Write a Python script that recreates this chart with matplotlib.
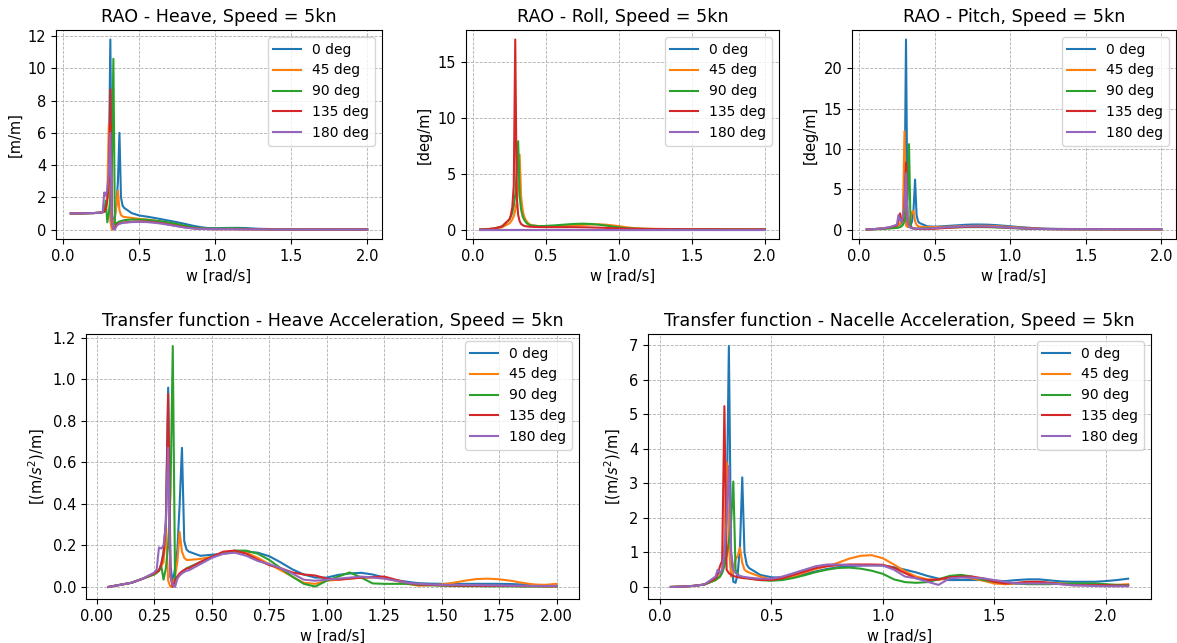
import numpy as np
import matplotlib
matplotlib.use("Agg")
import matplotlib.pyplot as plt

plt.rcParams["font.size"] = 10.5
plt.rcParams["legend.fontsize"] = 10

headings = ["0 deg", "45 deg", "90 deg", "135 deg", "180 deg"]

# frequency grid [rad/s]
w = [0.05, 0.10, 0.15, 0.20,
     0.25, 0.26, 0.27, 0.28, 0.29, 0.30, 0.31, 0.32, 0.33, 0.34, 0.35, 0.36, 0.37, 0.38, 0.39, 0.40,
     0.45, 0.50, 0.55, 0.60, 0.65, 0.70, 0.75, 0.80, 0.85, 0.90, 0.95, 1.00,
     1.05, 1.10, 1.15, 1.20, 1.25, 1.30, 1.35, 1.40, 1.45, 1.50,
     1.55, 1.60, 1.65, 1.70, 1.75, 1.80, 1.85, 1.90, 1.95, 2.00]
w_nac = w + [2.05, 2.10]

# RAO heave [m/m]
heave_0 = [1.00, 1.00, 1.01, 1.02,
           1.05, 1.08, 1.12, 1.40, 2.00, 3.50, 11.8, 1.00, 0.30, 0.80, 1.50, 3.00, 6.00, 2.00, 1.50, 1.35,
           1.02, 0.87, 0.80, 0.72, 0.63, 0.54, 0.45, 0.35, 0.24, 0.15, 0.09, 0.08,
           0.09, 0.10, 0.10, 0.09, 0.06, 0.04, 0.03, 0.02, 0.02, 0.01,
           0.01, 0.01, 0.01, 0.01, 0.01, 0.01, 0.00, 0.00, 0.00, 0.00]
heave_45 = [1.00, 1.00, 1.01, 1.02,
            1.05, 1.08, 1.10, 1.20, 2.00, 6.50, 0.50, 0.00, 0.30, 0.80, 1.50, 2.40, 1.20, 0.90, 0.82, 0.78,
            0.72, 0.66, 0.62, 0.56, 0.47, 0.37, 0.27, 0.18, 0.10, 0.06, 0.04, 0.03,
            0.03, 0.03, 0.02, 0.02, 0.02, 0.01, 0.01, 0.01, 0.01, 0.01,
            0.01, 0.01, 0.01, 0.01, 0.01, 0.01, 0.01, 0.00, 0.00, 0.00]
heave_90 = [1.00, 1.00, 1.01, 1.02,
            1.05, 1.07, 1.10, 1.80, 0.45, 1.00, 2.00, 4.00, 10.6, 0.30, 0.40, 0.45, 0.50, 0.52, 0.55, 0.58,
            0.62, 0.62, 0.60, 0.55, 0.50, 0.43, 0.34, 0.24, 0.14, 0.07, 0.05, 0.05,
            0.07, 0.08, 0.07, 0.05, 0.03, 0.02, 0.01, 0.01, 0.01, 0.01,
            0.00, 0.00, 0.00, 0.00, 0.00, 0.00, 0.00, 0.00, 0.00, 0.00]
heave_135 = [1.00, 1.00, 1.01, 1.02,
             1.05, 1.08, 1.10, 1.30, 1.80, 3.00, 8.70, 0.50, 0.00, 0.15, 0.28, 0.34, 0.38, 0.40, 0.42, 0.44,
             0.48, 0.50, 0.49, 0.45, 0.39, 0.30, 0.22, 0.14, 0.08, 0.04, 0.03, 0.02,
             0.02, 0.02, 0.02, 0.01, 0.01, 0.01, 0.01, 0.00, 0.00, 0.00,
             0.00, 0.00, 0.00, 0.00, 0.00, 0.00, 0.00, 0.00, 0.00, 0.00]
heave_180 = [1.00, 1.00, 1.01, 1.02,
             1.05, 1.10, 2.30, 2.10, 2.50, 3.50, 6.00, 0.50, 0.05, 0.00, 0.20, 0.30, 0.35, 0.38, 0.40, 0.42,
             0.46, 0.47, 0.46, 0.42, 0.36, 0.28, 0.20, 0.12, 0.07, 0.04, 0.02, 0.02,
             0.02, 0.02, 0.01, 0.01, 0.01, 0.01, 0.00, 0.00, 0.00, 0.00,
             0.00, 0.00, 0.00, 0.00, 0.00, 0.00, 0.00, 0.00, 0.00, 0.00]

# RAO roll [deg/m]
roll_0 = [0.0] * 4 + [0.0] * 16 + [0.0] * 12 + [0.0] * 20
roll_45 = [0.00, 0.03, 0.08, 0.20,
           0.55, 0.70, 0.90, 1.20, 1.70, 2.40, 3.80, 6.70, 3.00, 1.80, 1.20, 0.90, 0.70, 0.55, 0.45, 0.40,
           0.30, 0.28, 0.28, 0.30, 0.33, 0.37, 0.41, 0.44, 0.46, 0.44, 0.38, 0.30,
           0.20, 0.13, 0.09, 0.07, 0.06, 0.05, 0.04, 0.04, 0.03, 0.03,
           0.03, 0.02, 0.02, 0.02, 0.02, 0.02, 0.02, 0.01, 0.01, 0.01]
roll_90 = [0.00, 0.03, 0.10, 0.28,
           0.90, 1.15, 1.50, 2.10, 3.10, 5.00, 7.90, 3.00, 1.80, 1.20, 0.90, 0.70, 0.55, 0.46, 0.40, 0.36,
           0.30, 0.32, 0.36, 0.41, 0.46, 0.50, 0.52, 0.50, 0.45, 0.37, 0.28, 0.19,
           0.12, 0.08, 0.06, 0.05, 0.04, 0.03, 0.03, 0.03, 0.02, 0.02,
           0.02, 0.02, 0.02, 0.01, 0.01, 0.01, 0.01, 0.01, 0.01, 0.01]
roll_135 = [0.00, 0.03, 0.10, 0.28,
            0.90, 1.30, 2.00, 4.00, 17.0, 3.00, 1.30, 0.75, 0.50, 0.40, 0.33, 0.30, 0.28, 0.26, 0.25, 0.24,
            0.22, 0.21, 0.21, 0.21, 0.21, 0.21, 0.20, 0.19, 0.17, 0.15, 0.12, 0.10,
            0.08, 0.06, 0.05, 0.04, 0.04, 0.03, 0.03, 0.03, 0.02, 0.02,
            0.02, 0.02, 0.02, 0.01, 0.01, 0.01, 0.01, 0.01, 0.01, 0.01]
roll_180 = [0.0] * 4 + [0.0] * 16 + [0.0] * 12 + [0.0] * 20

# RAO pitch [deg/m]
pitch_0 = [0.00, 0.05, 0.12, 0.22,
           0.40, 0.48, 0.60, 0.80, 1.20, 3.00, 23.6, 1.00, 0.30, 0.50, 1.00, 2.50, 6.20, 1.80, 1.00, 0.80,
           0.40, 0.35, 0.40, 0.46, 0.52, 0.58, 0.62, 0.62, 0.60, 0.55, 0.48, 0.40,
           0.32, 0.25, 0.18, 0.13, 0.10, 0.08, 0.07, 0.06, 0.06, 0.05,
           0.05, 0.05, 0.05, 0.05, 0.05, 0.05, 0.05, 0.05, 0.05, 0.05]
pitch_45 = [0.00, 0.05, 0.12, 0.22,
            0.45, 0.52, 0.70, 1.00, 2.00, 12.2, 0.50, 0.30, 0.80, 1.50, 2.20, 2.30, 1.00, 0.60, 0.40, 0.35,
            0.30, 0.30, 0.32, 0.35, 0.38, 0.42, 0.45, 0.46, 0.45, 0.42, 0.37, 0.31,
            0.25, 0.19, 0.14, 0.10, 0.08, 0.06, 0.05, 0.04, 0.04, 0.04,
            0.03, 0.03, 0.03, 0.03, 0.03, 0.03, 0.03, 0.03, 0.03, 0.03]
pitch_90 = [0.00, 0.03, 0.06, 0.12,
            0.20, 0.23, 0.28, 0.40, 0.60, 1.00, 2.00, 4.00, 10.6, 0.50, 0.20, 0.10, 0.10, 0.10, 0.11, 0.12,
            0.15, 0.18, 0.21, 0.24, 0.27, 0.29, 0.30, 0.30, 0.29, 0.26, 0.22, 0.18,
            0.14, 0.10, 0.08, 0.06, 0.05, 0.04, 0.04, 0.03, 0.03, 0.03,
            0.03, 0.03, 0.03, 0.02, 0.02, 0.02, 0.02, 0.02, 0.02, 0.02]
pitch_135 = [0.00, 0.05, 0.12, 0.25,
             0.50, 1.00, 2.00, 1.00, 1.20, 3.00, 8.30, 1.00, 0.50, 0.30, 0.20, 0.15, 0.12, 0.10, 0.08, 0.06,
             0.05, 0.10, 0.16, 0.22, 0.28, 0.32, 0.35, 0.35, 0.34, 0.31, 0.27, 0.22,
             0.17, 0.13, 0.10, 0.07, 0.05, 0.04, 0.03, 0.03, 0.03, 0.03,
             0.03, 0.03, 0.02, 0.02, 0.02, 0.02, 0.02, 0.02, 0.02, 0.02]
pitch_180 = [0.00, 0.05, 0.13, 0.28,
             0.60, 1.80, 1.20, 1.00, 1.50, 3.00, 7.00, 1.00, 0.40, 0.20, 0.15, 0.12, 0.10, 0.10, 0.10, 0.10,
             0.12, 0.18, 0.24, 0.30, 0.35, 0.39, 0.40, 0.40, 0.38, 0.34, 0.29, 0.24,
             0.18, 0.14, 0.10, 0.08, 0.06, 0.05, 0.04, 0.04, 0.04, 0.04,
             0.04, 0.04, 0.04, 0.04, 0.04, 0.04, 0.04, 0.04, 0.04, 0.04]

# heave acceleration transfer function [(m/s^2)/m]
hacc_0 = [0.000, 0.010, 0.020, 0.040,
          0.065, 0.072, 0.080, 0.110, 0.170, 0.320, 0.960, 0.100, 0.020, 0.090, 0.180, 0.400, 0.670, 0.220, 0.180, 0.170,
          0.150, 0.155, 0.160, 0.168, 0.170, 0.165, 0.148, 0.118, 0.085, 0.060, 0.045, 0.045,
          0.058, 0.065, 0.068, 0.060, 0.045, 0.032, 0.025, 0.018, 0.016, 0.015,
          0.015, 0.015, 0.015, 0.015, 0.015, 0.014, 0.012, 0.010, 0.007, 0.005]
hacc_45 = [0.000, 0.010, 0.020, 0.040,
           0.062, 0.070, 0.078, 0.100, 0.120, 0.280, 0.030, 0.000, 0.010, 0.050, 0.120, 0.265, 0.170, 0.140, 0.130, 0.130,
           0.135, 0.145, 0.160, 0.170, 0.165, 0.140, 0.110, 0.080, 0.050, 0.020, 0.015, 0.030,
           0.035, 0.040, 0.045, 0.045, 0.042, 0.030, 0.015, 0.006, 0.008, 0.012,
           0.020, 0.030, 0.038, 0.040, 0.037, 0.030, 0.020, 0.012, 0.010, 0.015]
hacc_90 = [0.000, 0.010, 0.020, 0.040,
           0.060, 0.068, 0.078, 0.100, 0.035, 0.090, 0.200, 0.450, 1.160, 0.035, 0.050, 0.060, 0.070, 0.080, 0.090, 0.095,
           0.120, 0.145, 0.165, 0.175, 0.175, 0.160, 0.130, 0.090, 0.050, 0.015, 0.002, 0.030,
           0.050, 0.070, 0.045, 0.017, 0.015, 0.015, 0.015, 0.010, 0.008, 0.006,
           0.005, 0.004, 0.004, 0.003, 0.003, 0.003, 0.002, 0.002, 0.002, 0.002]
hacc_135 = [0.000, 0.010, 0.020, 0.040,
            0.065, 0.072, 0.080, 0.110, 0.160, 0.300, 0.930, 0.050, 0.000, 0.030, 0.050, 0.065, 0.075, 0.082, 0.088, 0.090,
            0.120, 0.145, 0.170, 0.175, 0.160, 0.130, 0.105, 0.090, 0.070, 0.060, 0.055, 0.040,
            0.035, 0.040, 0.045, 0.048, 0.050, 0.035, 0.020, 0.012, 0.010, 0.008,
            0.007, 0.006, 0.006, 0.005, 0.005, 0.005, 0.004, 0.004, 0.003, 0.003]
hacc_180 = [0.000, 0.010, 0.020, 0.040,
            0.070, 0.085, 0.190, 0.185, 0.200, 0.300, 0.670, 0.050, 0.010, 0.000, 0.040, 0.055, 0.065, 0.072, 0.078, 0.080,
            0.110, 0.140, 0.160, 0.165, 0.150, 0.125, 0.110, 0.090, 0.065, 0.035, 0.030, 0.035,
            0.040, 0.045, 0.050, 0.045, 0.040, 0.030, 0.020, 0.015, 0.012, 0.010,
            0.010, 0.010, 0.009, 0.008, 0.007, 0.006, 0.006, 0.005, 0.005, 0.005]

# nacelle acceleration transfer function [(m/s^2)/m]
nacc_0 = [0.00, 0.01, 0.03, 0.07,
          0.20, 0.25, 0.30, 0.45, 0.80, 2.00, 6.97, 1.00, 0.15, 0.12, 0.40, 1.20, 3.17, 1.00, 0.65, 0.55,
          0.35, 0.28, 0.27, 0.30, 0.38, 0.45, 0.52, 0.57, 0.60, 0.62, 0.63, 0.62,
          0.57, 0.50, 0.42, 0.32, 0.24, 0.20, 0.20, 0.20, 0.20, 0.18,
          0.17, 0.20, 0.22, 0.22, 0.19, 0.16, 0.15, 0.15, 0.15, 0.17,
          0.20, 0.24]
nacc_45 = [0.00, 0.01, 0.03, 0.07,
           0.20, 0.25, 0.30, 0.50, 1.20, 3.60, 1.20, 0.30, 0.50, 0.80, 0.90, 1.14, 0.70, 0.50, 0.45, 0.42,
           0.30, 0.22, 0.22, 0.30, 0.42, 0.52, 0.60, 0.70, 0.82, 0.90, 0.92, 0.83,
           0.65, 0.45, 0.30, 0.22, 0.20, 0.28, 0.30, 0.25, 0.18, 0.10,
           0.08, 0.10, 0.13, 0.13, 0.12, 0.10, 0.08, 0.06, 0.05, 0.05,
           0.06, 0.08]
nacc_90 = [0.00, 0.01, 0.03, 0.07,
           0.20, 0.25, 0.30, 0.40, 0.60, 0.90, 1.30, 1.90, 3.05, 0.50, 0.35, 0.30, 0.28, 0.27, 0.26, 0.25,
           0.20, 0.18, 0.20, 0.26, 0.34, 0.43, 0.50, 0.55, 0.56, 0.53, 0.47, 0.38,
           0.22, 0.14, 0.12, 0.14, 0.22, 0.32, 0.35, 0.30, 0.20, 0.15,
           0.12, 0.10, 0.08, 0.08, 0.08, 0.10, 0.10, 0.10, 0.10, 0.08,
           0.06, 0.05]
nacc_135 = [0.00, 0.01, 0.03, 0.07,
            0.25, 0.35, 0.60, 0.75, 5.23, 0.50, 0.40, 0.35, 0.32, 0.30, 0.28, 0.27, 0.26, 0.25, 0.25, 0.24,
            0.20, 0.20, 0.25, 0.35, 0.45, 0.55, 0.60, 0.63, 0.65, 0.65, 0.65, 0.64,
            0.55, 0.40, 0.25, 0.20, 0.22, 0.28, 0.30, 0.30, 0.25, 0.15,
            0.10, 0.12, 0.15, 0.15, 0.12, 0.08, 0.05, 0.05, 0.05, 0.05,
            0.04, 0.04]
nacc_180 = [0.00, 0.01, 0.03, 0.07,
            0.30, 0.50, 0.40, 0.50, 1.00, 2.00, 3.50, 1.00, 0.50, 0.40, 0.35, 0.32, 0.30, 0.29, 0.28, 0.27,
            0.24, 0.24, 0.30, 0.40, 0.50, 0.60, 0.65, 0.65, 0.63, 0.62, 0.62, 0.62,
            0.50, 0.30, 0.25, 0.15, 0.06, 0.25, 0.27, 0.27, 0.25, 0.20,
            0.15, 0.10, 0.10, 0.10, 0.10, 0.08, 0.05, 0.04, 0.03, 0.02,
            0.02, 0.02]


def plot_panel(ax, x, series, title, ylabel):
    for y, label in zip(series, headings):
        ax.plot(x, y, label=label)
    ax.set_title(title)
    ax.set_xlabel("w [rad/s]")
    ax.set_ylabel(ylabel)
    ax.grid(True, linestyle="--", linewidth=0.6)
    ax.legend(loc="upper right")


W, H = 1177, 643
fig = plt.figure(figsize=(W / 100, H / 100), dpi=100)


def axes_px(left, top, right, bottom):
    return fig.add_axes([left / W, 1 - bottom / H, (right - left) / W, (bottom - top) / H])


ax1 = axes_px(56, 30, 382, 239)
ax2 = axes_px(466, 30, 779, 239)
ax3 = axes_px(852, 30, 1176, 239)
ax4 = axes_px(86, 334, 579, 599)
ax5 = axes_px(648, 334, 1151, 599)

plot_panel(ax1, w, [heave_0, heave_45, heave_90, heave_135, heave_180],
           "RAO - Heave, Speed = 5kn", "[m/m]")
plot_panel(ax2, w, [roll_0, roll_45, roll_90, roll_135, roll_180],
           "RAO - Roll, Speed = 5kn", "[deg/m]")
plot_panel(ax3, w, [pitch_0, pitch_45, pitch_90, pitch_135, pitch_180],
           "RAO - Pitch, Speed = 5kn", "[deg/m]")
plot_panel(ax4, w, [hacc_0, hacc_45, hacc_90, hacc_135, hacc_180],
           "Transfer function - Heave Acceleration, Speed = 5kn", "[(m/$s^2$)/m]")
plot_panel(ax5, w_nac, [nacc_0, nacc_45, nacc_90, nacc_135, nacc_180],
           "Transfer function - Nacelle Acceleration, Speed = 5kn", "[(m/$s^2$)/m]")

fig.savefig("out.png", dpi=100)
